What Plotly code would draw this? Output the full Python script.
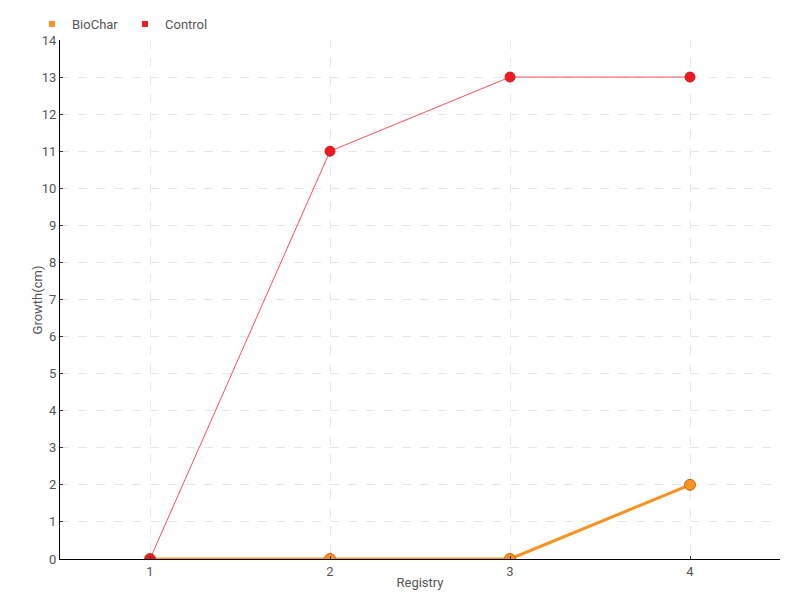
import plotly.graph_objects as go

registry = [1, 2, 3, 4]
biochar = [0, 0, 0, 2]
control = [0, 11, 13, 13]
y_ticks = list(range(0, 15))

FONT = "Roboto, DejaVu Sans, sans-serif"
ORANGE = "#f7931e"
RED = "#ed1c24"
TXT = "#555555"

fig = go.Figure()
fig.add_trace(go.Scatter(
    x=registry, y=biochar, mode="lines+markers", name="BioChar",
    line=dict(color=ORANGE, width=3),
    marker=dict(color=ORANGE, size=11, line=dict(color="#c8671a", width=1)),
    showlegend=False))
fig.add_trace(go.Scatter(
    x=registry, y=control, mode="lines+markers", name="Control",
    line=dict(color="#ff4d5e", width=1),
    marker=dict(color=RED, size=10, line=dict(color="#d01820", width=1)),
    showlegend=False))
# legend entries with square swatches
fig.add_trace(go.Scatter(x=[None], y=[None], mode="markers", name="BioChar",
                         marker=dict(color=ORANGE, symbol="square", size=6)))
fig.add_trace(go.Scatter(x=[None], y=[None], mode="markers", name="Control",
                         marker=dict(color=RED, symbol="square", size=6)))

fig.update_layout(
    width=800, height=600,
    margin=dict(l=60, r=20, t=40, b=41, autoexpand=False),
    paper_bgcolor="white", plot_bgcolor="white",
    font=dict(family=FONT, size=13, color=TXT),
    showlegend=True,
    legend=dict(orientation="h", xref="container", yref="container",
                x=0.04, y=0.985, xanchor="left", yanchor="top",
                font=dict(size=13, color=TXT), itemwidth=30,
                entrywidth=48, entrywidthmode="pixels",
                tracegroupgap=0, bgcolor="rgba(0,0,0,0)"),
    xaxis=dict(
        range=[0.5, 4.5], tickvals=registry, ticktext=[str(v) for v in registry],
        showgrid=True, gridcolor="#e6e6e6", griddash="dash", gridwidth=1,
        showline=True, linecolor="black", linewidth=1,
        ticks="inside", ticklen=3, tickcolor="#333",
        zeroline=False, automargin=False,
        title=dict(text="Registry", standoff=0, font=dict(size=13, color=TXT)),
    ),
    yaxis=dict(
        range=[0, 14], tickvals=y_ticks,
        showgrid=True, gridcolor="#e6e6e6", griddash="dash", gridwidth=1,
        showline=True, linecolor="black", linewidth=1,
        ticks="inside", ticklen=3, tickcolor="#333",
        zeroline=False, automargin=False,
    ),
    annotations=[dict(text="Growth(cm)", xref="paper", yref="paper",
                      x=-0.0306, y=0.5, xanchor="center", yanchor="middle",
                      textangle=-90, showarrow=False,
                      font=dict(size=13, color=TXT))],
)

fig.write_html("out.html", config={"displayModeBar": False},
               post_script="document.body.style.margin='0';")
